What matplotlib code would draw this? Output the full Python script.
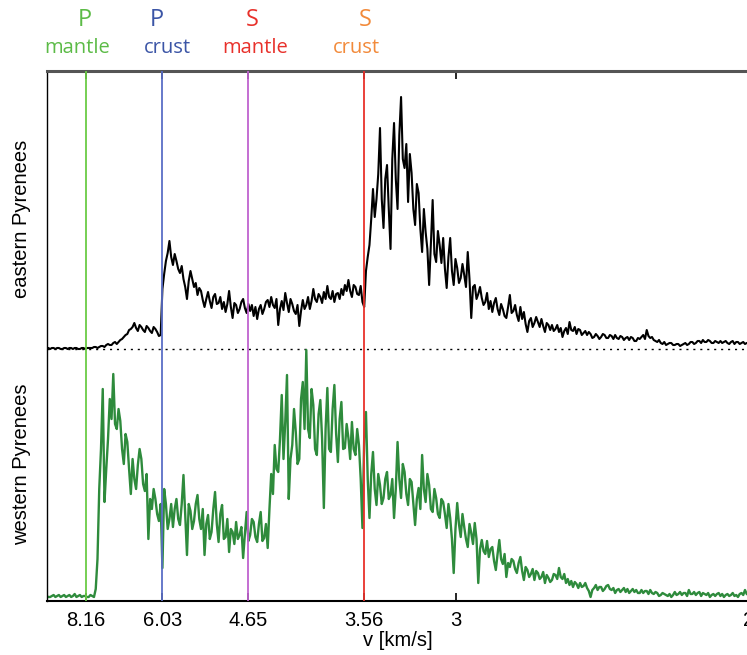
import numpy as np
import matplotlib
matplotlib.use("Agg")
import matplotlib.pyplot as plt

# apparent velocities of the phase onsets (km/s)
phase_v      = [8.16, 6.03, 4.65, 3.56]
phase_colors = ["#6bcb45", "#5a6ec6", "#bf62cf", "#e8312b"]
tick_v       = [8.16, 6.03, 4.65, 3.56, 3, 2]
tick_labels  = ["8.16", "6.03", "4.65", "3.56", "3", "2"]

# phase names written above the panel
phase_top    = ["P", "P", "S", "S"]
phase_bottom = ["mantle", "crust", "mantle", "crust"]
label_colors = ["#5cbb47", "#3b55a6", "#e8312b", "#f28a3a"]

# slowness grid of the stacks (s/km)
s_start, s_step = 0.100, 0.001

# stacked amplitude, eastern Pyrenees
east = [1, 1, 0, 1, 1, 0, 1, 1, 0, 0, 1, 1, 0, 1, 1, 0, 1, 1, 0, 0,
        1, 1, 0, 1, 1, 1, 1, 2, 2, 1, 2, 3, 3, 2, 4, 5, 4, 4, 6, 7,
        5, 7, 9, 10, 12, 14, 15, 19, 20, 22, 26, 21, 18, 24, 22, 19, 17, 23, 21, 18,
        16, 22, 20, 17, 13, 14, 60, 75, 88, 96, 108, 92, 84, 95, 88, 80, 76, 83, 70, 62,
        50, 68, 78, 70, 62, 66, 54, 61, 58, 49, 42, 50, 57, 48, 41, 52, 55, 45, 46, 52,
        40, 47, 37, 45, 58, 42, 31, 46, 44, 36, 40, 47, 50, 41, 36, 45, 38, 44, 33, 42,
        30, 40, 44, 35, 40, 47, 49, 42, 52, 44, 41, 50, 24, 40, 48, 39, 56, 46, 37, 50,
        45, 38, 35, 44, 23, 38, 49, 40, 44, 52, 40, 48, 60, 50, 47, 55, 52, 46, 57, 50,
        63, 52, 50, 58, 47, 55, 56, 50, 60, 54, 64, 58, 69, 58, 52, 64, 62, 55, 54, 63,
        47, 42, 78, 92, 104, 130, 160, 132, 150, 175, 221, 150, 121, 170, 184, 140, 100, 190, 226, 170,
        140, 214, 252, 190, 181, 205, 147, 195, 176, 140, 124, 165, 156, 120, 97, 140, 117, 100, 64, 105,
        149, 95, 87, 118, 104, 86, 111, 80, 61, 92, 111, 78, 64, 90, 81, 66, 71, 85, 74, 62,
        97, 70, 31, 62, 64, 50, 55, 62, 51, 44, 47, 56, 40, 48, 37, 46, 51, 40, 34, 45,
        40, 33, 31, 42, 54, 36, 38, 44, 34, 28, 42, 30, 37, 25, 17, 28, 31, 22, 26, 32,
        27, 22, 30, 23, 17, 26, 24, 19, 24, 18, 20, 24, 17, 21, 12, 18, 21, 15, 27, 19,
        18, 22, 15, 20, 19, 14, 16, 18, 14, 17, 15, 11, 12, 15, 13, 10, 12, 15, 14, 11,
        11, 14, 13, 10, 14, 11, 10, 13, 12, 9, 11, 12, 9, 12, 11, 8, 8, 11, 10, 12,
        14, 10, 19, 13, 11, 12, 9, 8, 7, 9, 6, 5, 7, 4, 5, 6, 6, 4, 4, 5,
        5, 3, 4, 5, 6, 4, 5, 7, 7, 5, 6, 8, 8, 6, 9, 7, 7, 9, 8, 6,
        6, 8, 7, 6, 8, 6, 7, 8, 6, 5, 7, 8, 5, 7, 7, 5, 6, 7, 5, 6,
        6]

# stacked amplitude, western Pyrenees
west = [3, 2, 2, 3, 4, 2, 3, 4, 2, 3, 4, 2, 3, 4, 2, 3, 5, 2, 3, 4,
        2, 3, 3, 2, 2, 4, 3, 2, 10, 40, 110, 150, 210, 97, 130, 160, 200, 180, 225, 175,
        170, 190, 178, 150, 135, 165, 157, 130, 105, 140, 120, 110, 134, 150, 140, 115, 108, 125, 60, 100,
        90, 110, 100, 85, 78, 95, 31, 110, 95, 70, 80, 95, 72, 90, 100, 80, 74, 95, 124, 85,
        44, 95, 88, 70, 78, 95, 104, 80, 70, 90, 44, 75, 84, 60, 67, 90, 107, 75, 57, 85,
        94, 60, 62, 80, 47, 70, 67, 55, 77, 60, 64, 72, 41, 65, 87, 58, 64, 80, 77, 62,
        57, 75, 87, 58, 61, 75, 51, 90, 125, 105, 154, 130, 127, 160, 204, 140, 177, 224, 100, 140,
        154, 190, 167, 135, 140, 200, 217, 170, 249, 170, 161, 210, 194, 150, 144, 185, 199, 160, 91, 170,
        211, 150, 147, 190, 214, 165, 137, 180, 197, 150, 151, 175, 161, 140, 177, 150, 144, 170, 154, 120,
        71, 161, 187, 120, 81, 125, 147, 110, 94, 125, 114, 95, 101, 120, 127, 100, 104, 120, 81, 110,
        157, 120, 101, 135, 127, 105, 94, 120, 117, 95, 74, 100, 111, 90, 144, 110, 97, 125, 114, 90,
        87, 110, 101, 85, 81, 100, 97, 85, 71, 95, 81, 60, 26, 70, 96, 75, 62, 85, 72, 60,
        52, 75, 66, 55, 76, 60, 16, 50, 59, 48, 45, 58, 42, 50, 52, 38, 29, 45, 59, 40,
        35, 45, 22, 36, 32, 40, 38, 30, 26, 36, 42, 28, 19, 32, 29, 22, 25, 30, 19, 28,
        26, 20, 22, 27, 16, 24, 21, 17, 19, 25, 24, 20, 31, 22, 20, 25, 16, 20, 14, 18,
        12, 17, 15, 11, 16, 12, 13, 16, 11, 8, 2, 9, 11, 14, 9, 12, 12, 8, 10, 13,
        14, 10, 9, 11, 6, 9, 10, 7, 9, 11, 7, 10, 6, 8, 10, 7, 9, 6, 6, 9,
        6, 8, 8, 5, 9, 6, 5, 7, 6, 3, 4, 6, 5, 4, 3, 5, 2, 4, 7, 4,
        5, 7, 4, 6, 6, 3, 9, 5, 5, 7, 4, 6, 7, 3, 6, 5, 4, 6, 2, 4,
        5, 3, 5, 6, 3, 5, 2, 4, 5, 3, 4, 6, 3, 4, 2, 5, 6, 4, 9, 5,
        4]

s_east = s_start + s_step*np.arange(len(east))
s_west = s_start + s_step*np.arange(len(west))

EAST_OFFSET = 252   # baseline of the upper stack
WEST_OFFSET = 2

fig = plt.figure(figsize=(7.47, 6.55), dpi=100)
ax = fig.add_axes([46.6/747, 54/655, 701.9/747, 530/655])

ax.axhline(EAST_OFFSET, color="black", lw=1.0, ls=(0, (1.5, 3.5)), zorder=1)
ax.plot(s_east, np.array(east) + EAST_OFFSET, color="black", lw=1.5, zorder=2)
ax.plot(s_west, np.array(west) + WEST_OFFSET, color="#2e8b3c", lw=1.7, zorder=2)

for v, c in zip(phase_v, phase_colors):
    ax.axvline(1/v, color=c, lw=1.3, zorder=3)

ax.set_xlim(0.1, 0.5)
ax.set_ylim(0, 530)
ax.set_xticks([1/v for v in tick_v])
ax.set_xticklabels(tick_labels, family="Liberation Sans", fontsize=14.5)
ax.set_yticks([])
ax.tick_params(axis="x", direction="in", top=True, length=6, width=1.2, pad=7)
ax.set_xlabel("v [km/s]", family="Liberation Sans", fontsize=14.5, labelpad=1)

ax.spines["top"].set_color("#555555")
ax.spines["top"].set_linewidth(2.2)
ax.spines["left"].set_linewidth(1.0)
ax.spines["bottom"].set_linewidth(1.5)

fig.text(22/747, 1-219/655, "eastern Pyrenees", rotation=90, ha="center", va="center",
         family="Liberation Sans", fontsize=14.5)
fig.text(22/747, 1-464/655, "western Pyrenees", rotation=90, ha="center", va="center",
         family="Liberation Sans", fontsize=14.5)

top_x = [85, 157, 252, 365]
bot_x = [77, 167, 255, 356]
for t, b, c, xt, xb in zip(phase_top, phase_bottom, label_colors, top_x, bot_x):
    fig.text(xt/747, 1-20/655, t, color=c, ha="center", va="center",
             family="Open Sans", fontsize=17, weight="medium")
    fig.text(xb/747, 1-48/655, b, color=c, ha="center", va="center",
             family="Open Sans", fontsize=14.5, weight="medium")

fig.savefig("out.png", dpi=100)
